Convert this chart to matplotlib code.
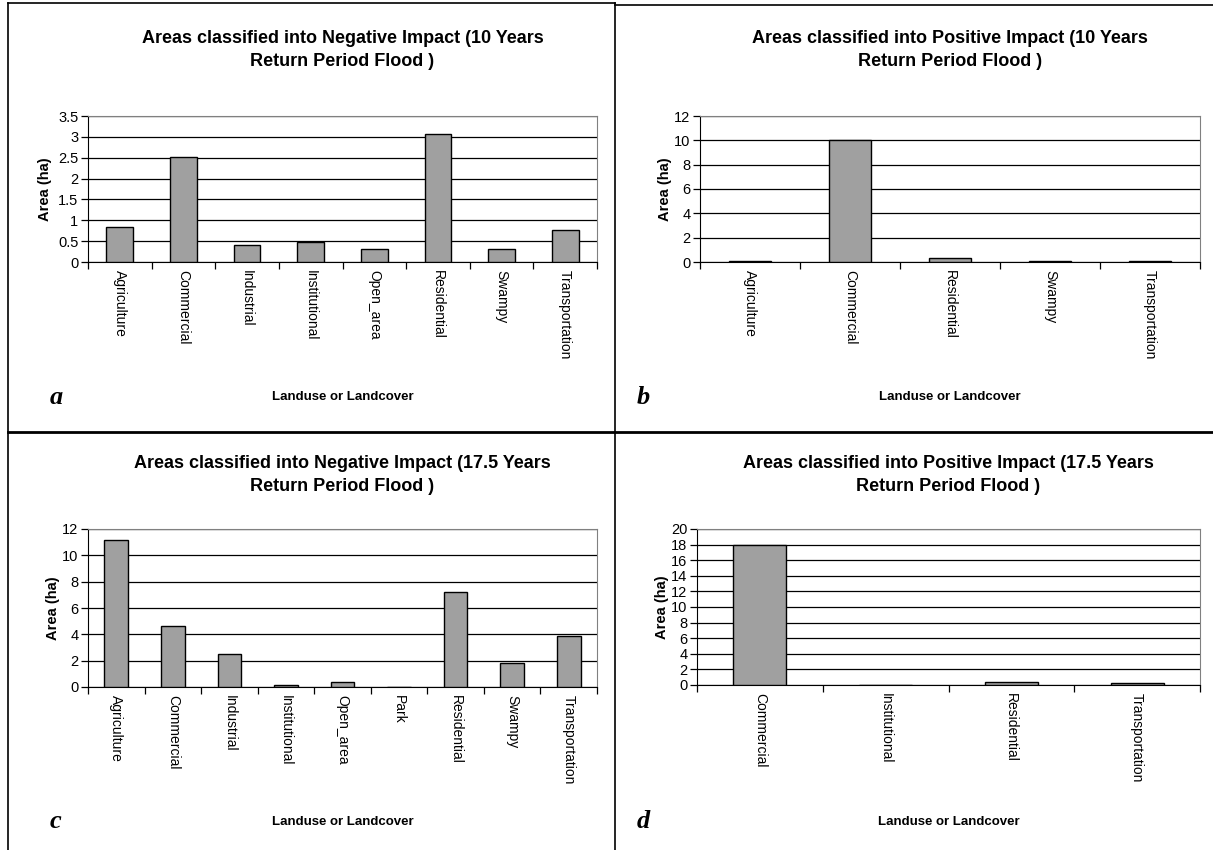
import matplotlib.pyplot as plt
from matplotlib.lines import Line2D
import numpy as np

# panel a: negative impact, 10 years
cat_a = ['Agriculture', 'Commercial', 'Industrial', 'Institutional',
         'Open_area', 'Residential', 'Swampy', 'Transportation']
val_a = [0.85, 2.52, 0.4, 0.47, 0.3, 3.07, 0.3, 0.77]

# panel b: positive impact, 10 years
cat_b = ['Agriculture', 'Commercial', 'Residential', 'Swampy', 'Transportation']
val_b = [0.1, 10.0, 0.35, 0.1, 0.1]

# panel c: negative impact, 17.5 years
cat_c = ['Agriculture', 'Commercial', 'Industrial', 'Institutional',
         'Open_area', 'Park', 'Residential', 'Swampy', 'Transportation']
val_c = [11.2, 4.6, 2.5, 0.12, 0.35, 0.0, 7.25, 1.85, 3.85]

# panel d: positive impact, 17.5 years
cat_d = ['Commercial', 'Institutional', 'Residential', 'Transportation']
val_d = [18.0, 0.0, 0.4, 0.2]

W, H = 1213, 850
fig = plt.figure(figsize=(W/100, H/100), dpi=100)
fig.patch.set_facecolor('white')

FONT = ['Liberation Sans', 'DejaVu Sans']


def box(l, r, t, b):
    return [l/W, 1-b/H, (r-l)/W, (b-t)/H]


def panel(rect, cats, vals, ymax, ystep, title, letter, letter_x, letter_y, title_y, ylab_off=28):
    ax = fig.add_axes(rect)
    x = np.arange(len(cats))
    ax.bar(x, vals, width=0.42, color='#a0a0a0', edgecolor='black', linewidth=1, zorder=3)
    ax.set_xlim(-0.5, len(cats) - 0.5)
    ax.set_ylim(0, ymax)
    yt = np.arange(0, ymax + ystep/2, ystep)
    ax.set_yticks(yt)
    ax.set_yticklabels(['%g' % v for v in yt], fontsize=10.5, family=FONT)
    ax.yaxis.grid(True, color='black', linewidth=0.9, zorder=0)
    ax.set_xticks(x)
    ax.set_xticklabels(cats, rotation=270, fontsize=10, family=FONT)
    ax.set_xticks(np.arange(-0.5, len(cats)), minor=True)
    ax.tick_params(axis='x', which='major', length=0, pad=6)
    ax.tick_params(axis='x', which='minor', length=5, width=0.9)
    ax.tick_params(axis='y', length=5, width=0.9, pad=2)
    for s in ['top', 'right']:
        ax.spines[s].set_color('#808080')
    for s in ['left', 'bottom']:
        ax.spines[s].set_color('black')
    ax.set_ylabel('Area (ha)', fontsize=10.5, fontweight='bold', family=FONT)
    ax.yaxis.set_label_coords(-ylab_off / (rect[2] * W), 0.5)
    cx = rect[0] + rect[2] / 2
    fig.text(cx, title_y, title, ha='center', va='top', fontsize=13,
             fontweight='bold', family=FONT, linespacing=1.45)
    fig.text(cx, letter_y, 'Landuse or Landcover', ha='center', va='center',
             fontsize=9.5, fontweight='bold', family=FONT)
    fig.text(letter_x, letter_y, letter, ha='left', va='center', fontsize=19,
             fontweight='bold', style='italic', family=['Liberation Serif', 'DejaVu Serif'])
    return ax


panel(box(88, 597, 116, 262), cat_a, val_a, 3.5, 0.5,
      'Areas classified into Negative Impact (10 Years\nReturn Period Flood )',
      'a', 50/W, 1-397/H, 1-30/H, ylab_off=36)
panel(box(700, 1200, 116, 262), cat_b, val_b, 12, 2,
      'Areas classified into Positive Impact (10 Years\nReturn Period Flood )',
      'b', 637/W, 1-397/H, 1-30/H)
panel(box(88, 597, 529, 687), cat_c, val_c, 12, 2,
      'Areas classified into Negative Impact (17.5 Years\nReturn Period Flood )',
      'c', 50/W, 1-822/H, 1-455/H)
panel(box(697, 1200, 529, 685), cat_d, val_d, 20, 2,
      'Areas classified into Positive Impact (17.5 Years\nReturn Period Flood )',
      'd', 637/W, 1-822/H, 1-455/H)


def line(x0, y0, x1, y1, lw=1.2):
    fig.add_artist(Line2D([x0/W, x1/W], [1-y0/H, 1-y1/H], color='black',
                          linewidth=lw, transform=fig.transFigure))


line(8, 3, 615, 3)
line(615, 5, 1213, 5)
line(8, 3, 8, 850)
line(615, 3, 615, 850)
line(8, 432, 1213, 432, lw=2)

fig.savefig('out.png', dpi=100)
